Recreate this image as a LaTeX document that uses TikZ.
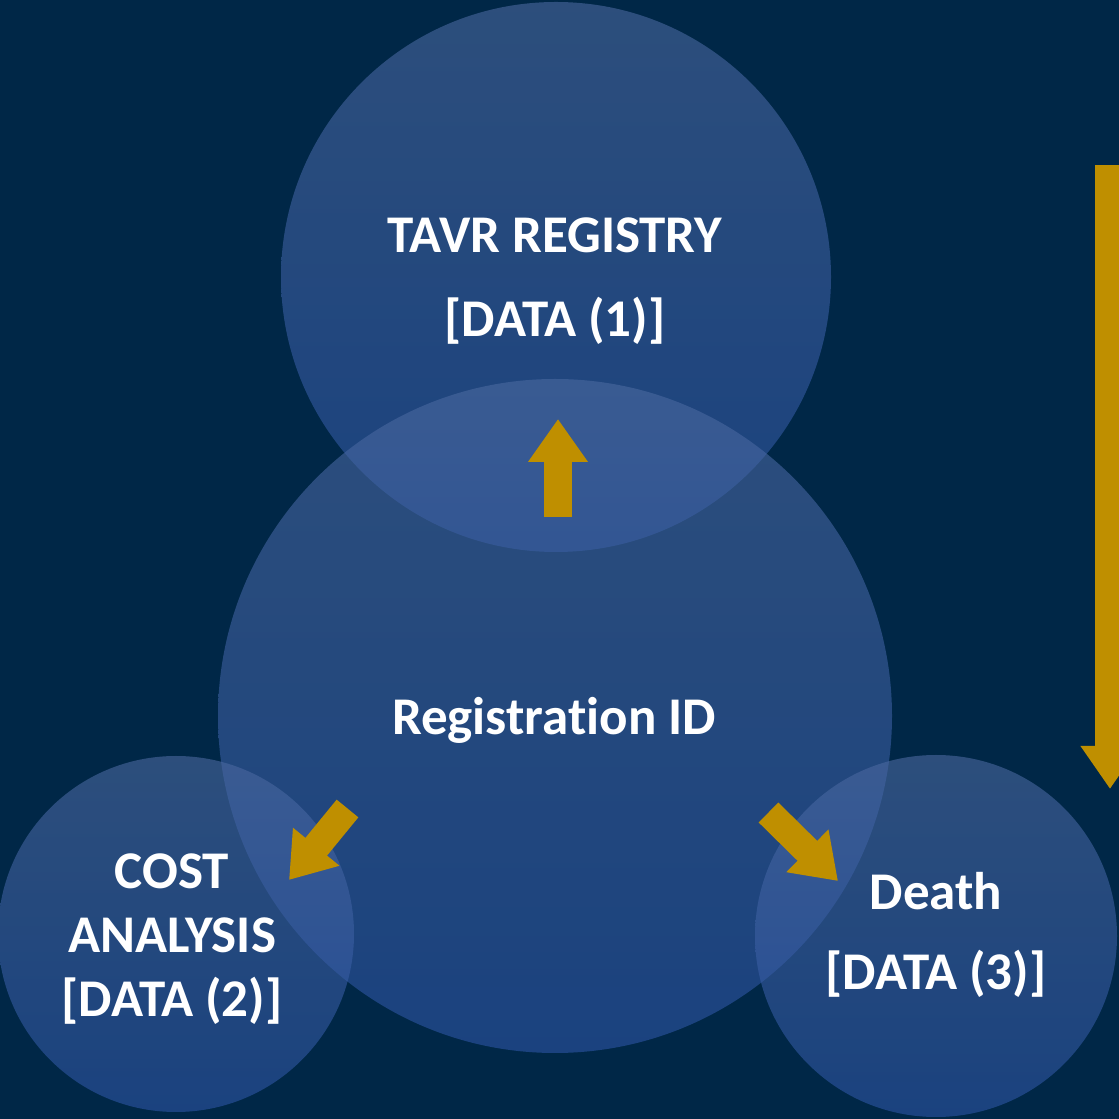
\documentclass[tikz,border=0pt]{standalone}
\usepackage{fontspec}
\setmainfont{Carlito}[Ligatures=NoCommon]
\usetikzlibrary{arrows.meta}
\definecolor{bgnavy}{RGB}{0,39,71}
\definecolor{bubbletop}{RGB}{75,105,160}
\definecolor{bubblebot}{RGB}{45,85,165}
\definecolor{arrowgold}{RGB}{191,143,0}
\tikzset{
	bubble/.style={circle, inner sep=0pt, draw=none, top color=bubbletop, bottom color=bubblebot, fill opacity=0.6, text opacity=1},
	lbl/.style={text=white, align=center, anchor=base, inner sep=0pt, font=\bfseries\fontsize{53}{#1}\selectfont},
	lbl/.default=84,
	goldarrow/.style={draw=arrowgold, line width=28pt, -{Triangle[length=43pt, width=57pt]}, arrowgold}
}
\begin{document}
\begin{tikzpicture}[x=1pt, y=1pt]
	% background
	\fill[bgnavy] (0,0) rectangle (1119,1119);
	\useasboundingbox (0,0) rectangle (1119,1119);
	
	% circles
	\node[bubble, minimum size=550] (registry) at (556,842) {};
	\node[bubble, minimum size=674] (regid) at (555,403) {};
	\node[bubble, minimum size=356] (cost) at (176,185) {};
	\node[bubble, minimum size=362] (death) at (936,183) {};
	
	% texts (base = last line)
	\node[lbl] (registrytxt) at (555,782) {TAVR REGISTRY\\{[}DATA (1)]};
	\node[lbl] (regidtxt) at (554,384) {Registration ID};
	\node[lbl=64] (costtxt) at (172,102) {COST\\ANALYSIS\\{[}DATA (2)]};
	\node[lbl=80] (deathtxt) at (936,129) {Death\\{[}DATA (3)]};
	
	% arrows
	\coordinate (up tail) at (558,602);
	\coordinate (up tip) at (558,700);
	\coordinate (left tail) at (347.5,310.5);
	\coordinate (left tip) at (289,239);
	\coordinate (right tail) at (768.5,306.5);
	\coordinate (right tip) at (838,238);
	\coordinate (time top) at (1110,954);
	\coordinate (time tip) at (1110,330);
	\draw[goldarrow] (up tail) -- (up tip);
	\draw[goldarrow] (left tail) -- (left tip);
	\draw[goldarrow] (right tail) -- (right tip);
	\draw[goldarrow, line width=30pt, -{Triangle[length=43pt, width=56pt]}] (time top) -- (time tip);
\end{tikzpicture}
\end{document}
